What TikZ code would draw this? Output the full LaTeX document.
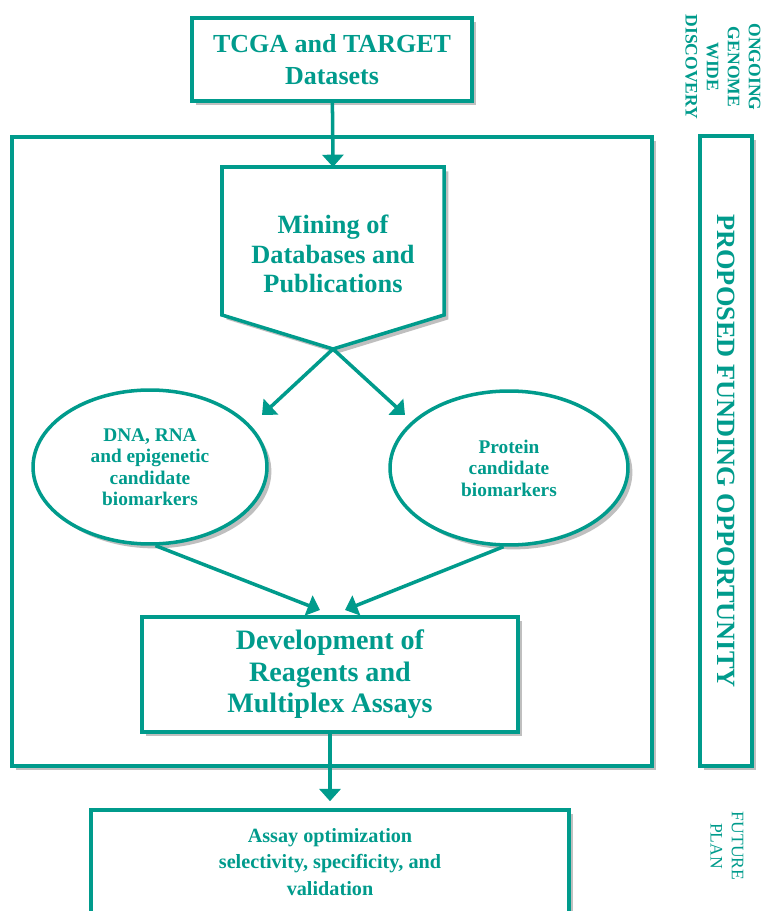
\documentclass[tikz,border=0pt]{standalone}
\usepackage{fontspec}
\setmainfont{Liberation Serif}
\usepackage{graphicx}
\usetikzlibrary{arrows.meta}
\usetikzlibrary{shapes.geometric}
\usetikzlibrary{shadows}
\definecolor{petrol}{RGB}{0,155,140}

\begin{document}
\begin{tikzpicture}[x=0.02cm, y=-0.02cm,
    linie/.style={draw=petrol, line width=2pt, fill=white,
        drop shadow={shadow xshift=2.5pt, shadow yshift=-2.5pt, opacity=0.45, fill=black!55}},
    kasten/.style={linie, text=petrol, align=center, inner sep=0pt},
    oval/.style={kasten, ellipse},
    pfeil/.style={draw=petrol, line width=2pt, -{Triangle[width=12pt,length=7pt]}},
    randtext/.style={text=petrol, align=center, rotate=-90}
]

    % Bildausschnitt festlegen
    \useasboundingbox (0,0) rectangle (764,911);

    % grosser Rahmen und seitliche Box
    \node[kasten, minimum width=12.8cm, minimum height=12.58cm] (rahmen) at (332,451.5) {};
    \node[kasten, minimum width=1.04cm, minimum height=12.6cm,
        font=\bfseries\fontsize{15}{18}\selectfont] (foerderung) at (726,451)
        {\rotatebox{-90}{PROPOSED FUNDING OPPORTUNITY}};

    % Datensaetze oben
    \node[kasten, minimum width=5.6cm, minimum height=1.66cm,
        font=\bfseries\fontsize{14.8}{18}\selectfont] (tcga) at (332,59.5)
        {TCGA and TARGET\\Datasets};

    % Fuenfeck fuer die Datenbanksuche
    \coordinate (mine-oben) at (333,167);
    \coordinate (mine-spitze) at (333,349);
    \draw[linie] (222,167) -- (444,167) -- (444,315) -- (mine-spitze) -- (222,315) -- cycle;
    \node[text=petrol, align=center, font=\bfseries\fontsize{15}{17}\selectfont] (mining) at (333,254)
        {Mining of\\Databases and\\Publications};

    % Kandidaten (Ellipsen)
    \node[oval, minimum width=4.68cm, minimum height=3.08cm,
        font=\bfseries\fontsize{11}{12.2}\selectfont] (dna) at (150,467)
        {DNA, RNA\\and epigenetic\\candidate\\biomarkers};
    \node[oval, minimum width=4.76cm, minimum height=3.08cm,
        font=\bfseries\fontsize{11}{12.2}\selectfont] (protein) at (509,468)
        {Protein\\candidate\\biomarkers};

    % Entwicklung und Optimierung
    \node[kasten, minimum width=7.52cm, minimum height=2.3cm,
        font=\bfseries\fontsize{16}{18}\selectfont] (entwicklung) at (330,674.5)
        {Development of\\Reagents and\\Multiplex Assays};
    \node[kasten, minimum width=9.56cm, minimum height=2.08cm,
        font=\bfseries\fontsize{11.5}{15}\selectfont] (assay) at (330,862)
        {Assay optimization\\selectivity, specificity, and\\validation};

    % Randbeschriftungen
    \node[randtext, font=\bfseries\fontsize{10}{12}\selectfont] (laufend) at (723,67)
        {ONGOING\\GENOME\\WIDE\\DISCOVERY};
    \node[randtext, font=\fontsize{10}{12}\selectfont] (zukunft) at (727,846)
        {FUTURE\\PLAN};

    % Pfeile
    \coordinate (ziel-links) at (262,415);
    \coordinate (ziel-rechts) at (405,415);
    \coordinate (ziel-mitte-l) at (320,610);
    \coordinate (ziel-mitte-r) at (345,610);
    \draw[pfeil] (tcga) -- (mine-oben);
    \draw[pfeil] (mine-spitze) -- (ziel-links);
    \draw[pfeil] (mine-spitze) -- (ziel-rechts);
    \draw[pfeil] (dna.-86) -- (ziel-mitte-l);
    \draw[pfeil] (protein.-94) -- (ziel-mitte-r);
    \draw[pfeil, shorten >=4pt] (entwicklung) -- (assay);
\end{tikzpicture}
\end{document}
